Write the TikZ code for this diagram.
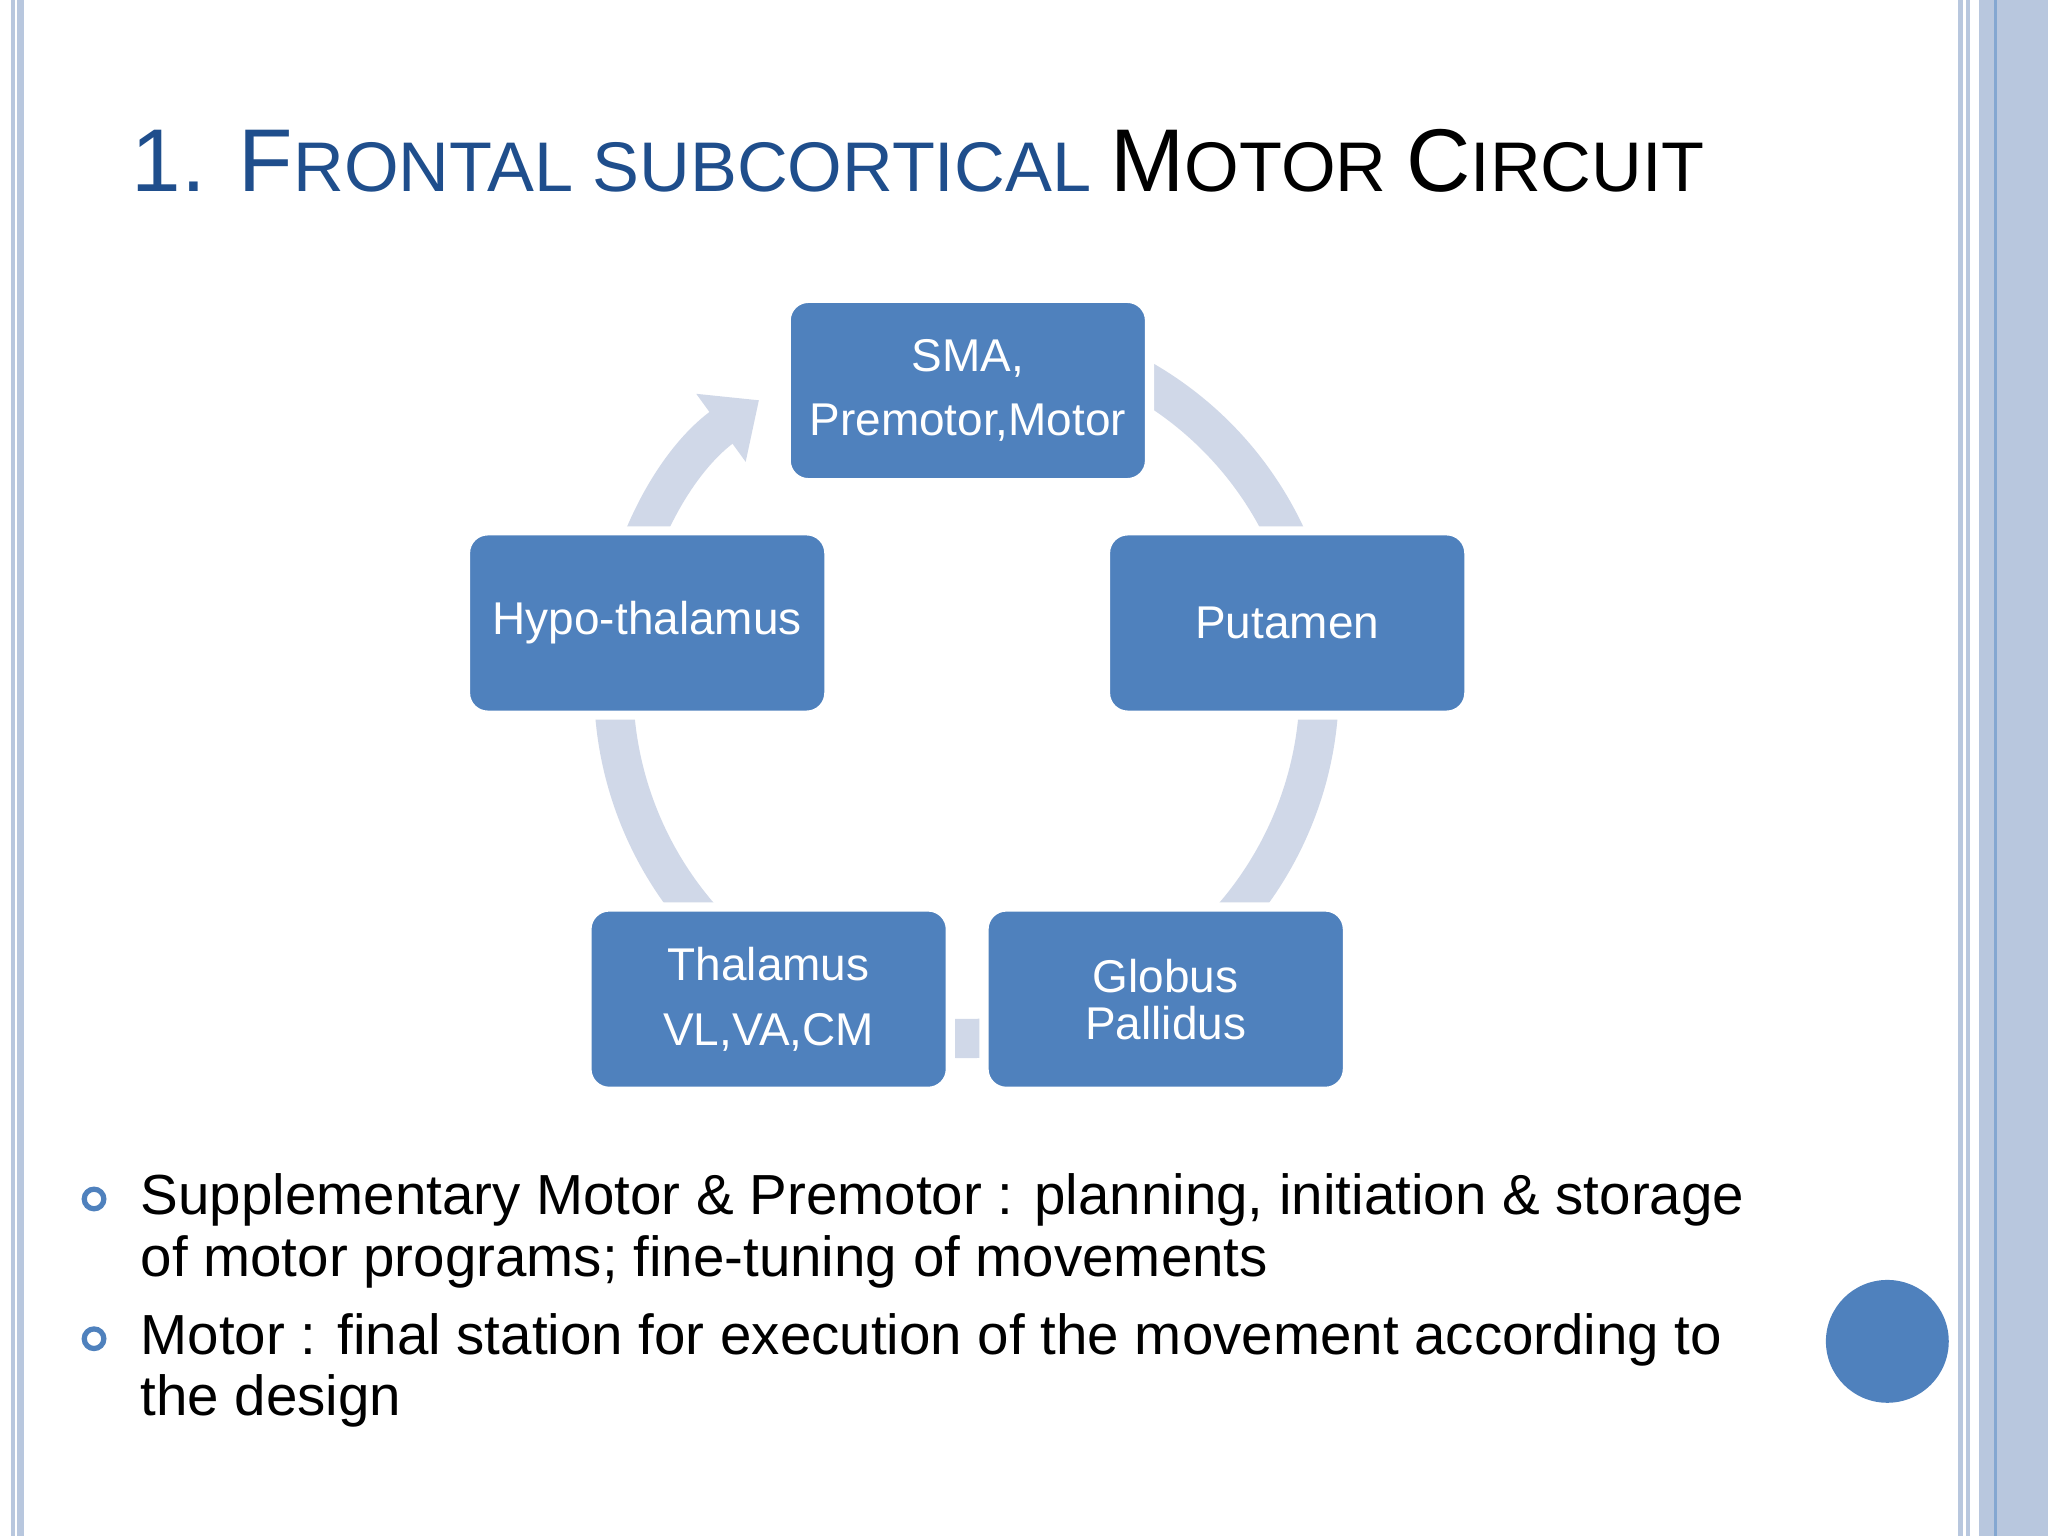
\documentclass[tikz,border=0pt]{standalone}
\usepackage{fontspec}
\setmainfont{Liberation Sans}
\usetikzlibrary{arrows.meta}
\definecolor{bx}{HTML}{4F81BD}
\definecolor{ring}{HTML}{D0D8E8}
\definecolor{brd}{HTML}{B8C7DE}
\definecolor{ttl}{HTML}{1F4E8C}
\begin{document}
\begin{tikzpicture}[x=0.01cm,y=0.01cm,
  box/.style={draw=white,line width=0.07cm,fill=bx,rounded corners=0.17cm,minimum width=2.78cm,minimum height=1.41cm,text=white,align=center,font=\fontsize{10}{14}\selectfont,inner sep=0pt},
  bul/.style={anchor=base west,font=\fontsize{12.3}{13.7}\selectfont,inner sep=0pt}]
\useasboundingbox (0,0) rectangle (1568,1176);
\fill[white] (0,0) rectangle (1568,1176);
% borders
\fill[brd] (8.5,0) rectangle (18,1176);
\draw[white,line width=0.015cm] (12.5,0) -- (12.5,1176);
\draw[brd,line width=0.04cm] (1501,0) -- (1501,1176);
\draw[brd,line width=0.03cm] (1507,0) -- (1507,1176);
\fill[brd] (1515,0) rectangle (1568,1176);
\draw[bx!70,line width=0.025cm] (1528,0) -- (1528,1176);
% title
\node[anchor=base west,inner sep=0pt,text=ttl] (title) at (100,1029)
 {\fontsize{19.4}{22}\selectfont 1. F\fontsize{15.3}{22}\selectfont RONTAL SUBCORTICAL \textcolor{black}{\fontsize{19.4}{22}\selectfont M\fontsize{15.3}{22}\selectfont OTOR \fontsize{19.4}{22}\selectfont C\fontsize{15.3}{22}\selectfont IRCUIT}};
% ring
\draw[ring,line width=0.3cm,-{Triangle[width=0.62cm,length=0.36cm]}] (875,885) arc[start angle=60,end angle=-234,radius=2.7cm];
% boxes
\node[box] (sma) at (741,877) {SMA,\\Premotor,Motor};
\node[box] (hyp) at (495.5,699) {Hypo-thalamus};
\node[box] (put) at (985.5,699) {Putamen};
\node[box] (tha) at (588.5,411) {Thalamus\\VL,VA,CM};
\node[box,font=\fontsize{10}{10.2}\selectfont] (glo) at (892.5,411) {Globus\\Pallidus};
% bullets
\foreach \yy in {258,151} \draw[bx,line width=0.04cm] (72,\yy) circle (0.075cm);
\node[bul] (b1a) at (107,246) {Supplementary Motor \& Premotor : planning, initiation \& storage};
\node[bul] (b1b) at (107,199) {of motor programs; fine-tuning of movements};
\node[bul] (b2a) at (107,139) {Motor : final station for execution of the movement according to};
\node[bul] (b2b) at (107,92) {the design};
\fill[bx] (1445,149) circle (0.47cm);
\end{tikzpicture}
\end{document}
